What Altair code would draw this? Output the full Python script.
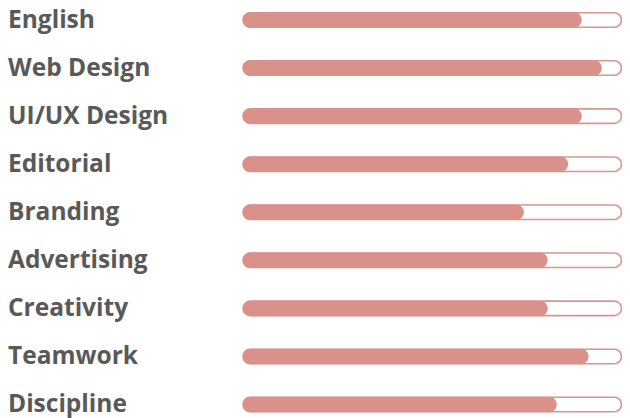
import altair as alt
import pandas as pd

skills = ["English", "Web Design", "UI/UX Design", "Editorial", "Branding",
          "Advertising", "Creativity", "Teamwork", "Discipline"]
levels = [89.5, 94.8, 89.5, 85.9, 74.2, 80.5, 80.5, 91.3, 82.9]

df = pd.DataFrame({"skill": skills, "level": levels,
                   "full": [100] * len(skills), "zero": [0] * len(skills)})

W, H = 614, 410
y_enc = alt.Y("skill:N", sort=skills, axis=None,
              scale=alt.Scale(type="point", range=[12, 396.5], padding=0))
x_scale = alt.Scale(domain=[0, 100], range=[235, 613.5])

base = alt.Chart(df)

track = base.mark_bar(fill="white", stroke="#da958e", strokeWidth=1.6,
                      cornerRadius=7.5, size=14.5).encode(
    x=alt.X("zero:Q", scale=x_scale, axis=None),
    x2="full:Q",
    y=y_enc,
)

fill = base.mark_bar(color="#d9918a", cornerRadius=7.75, size=15.5).encode(
    x=alt.X("zero:Q", scale=x_scale, axis=None),
    x2="level:Q",
    y=y_enc,
)

labels = base.mark_text(align="left", baseline="alphabetic", font="Open Sans",
                        fontWeight="bold", fontSize=24.5, color="#595959", dy=7.5).encode(
    x=alt.value(0),
    y=y_enc,
    text="skill:N",
)

chart = alt.layer(track, fill, labels).properties(
    width=W, height=H,
    autosize=alt.AutoSizeParams(type="none"),
    padding=0,
).configure_view(stroke=None)

chart.save("out.html", embed_options={"renderer": "svg", "actions": False})
